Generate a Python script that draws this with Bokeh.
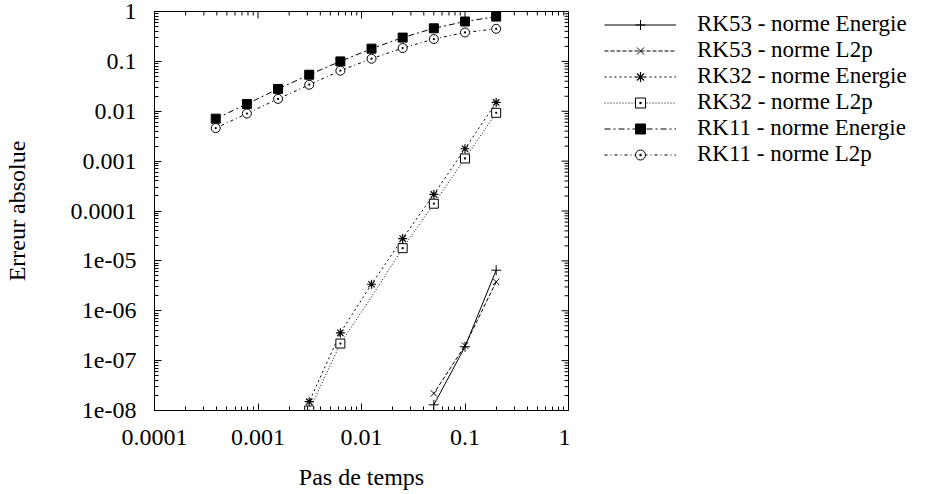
import math
from bokeh.plotting import figure
from bokeh.layouts import row
from bokeh.models import (Legend, LegendItem, FixedTicker, CustomJSTickFormatter, Range1d)
from bokeh.embed import file_html
from bokeh.resources import INLINE

# ---------------- data ----------------
DT = [0.2, 0.1, 0.05, 0.025, 0.0125, 0.00625, 0.003125, 0.0015625, 0.00078125, 0.000390625]

RK53_DT = [0.2, 0.1, 0.05]
RK53_ENERGIE = [6.5e-6, 1.9e-7, 1.3e-8]
RK53_L2P = [3.8e-6, 2.0e-7, 2.2e-8]

RK32_DT = [0.2, 0.1, 0.05, 0.025, 0.0125, 0.00625, 0.003125]
RK32_ENERGIE = [0.015, 0.00177, 2.15e-4, 2.8e-5, 3.4e-6, 3.6e-7, 1.5e-8]
RK32_L2P = [0.0093, 0.00113, 1.4e-4, 1.8e-5, 1.9e-6, 2.2e-7, 1.0e-8]
RK32_L2P_MARKED = [True, True, True, True, False, True, True]

RK11_ENERGIE = [0.79, 0.63, 0.46, 0.30, 0.18, 0.10, 0.054, 0.028, 0.014, 0.0071]
RK11_L2P = [0.45, 0.38, 0.28, 0.185, 0.113, 0.065, 0.034, 0.0177, 0.009, 0.0046]

X_TICKS = [1e-4, 1e-3, 1e-2, 1e-1, 1.0]
X_TICK_LABELS = ["0.0001", "0.001", "0.01", "0.1", "1"]
Y_TICKS = [1e-8, 1e-7, 1e-6, 1e-5, 1e-4, 1e-3, 1e-2, 1e-1, 1.0]
Y_TICK_LABELS = ["1e-08", "1e-07", "1e-06", "1e-05", "0.0001", "0.001", "0.01", "0.1", "1"]

SERIES_LABELS = ["RK53 - norme Energie", "RK53 - norme L2p",
                 "RK32 - norme Energie", "RK32 - norme L2p",
                 "RK11 - norme Energie", "RK11 - norme L2p"]

X_LABEL = "Pas de temps"
Y_LABEL = "Erreur absolue"

FONT = "Liberation Serif"
FS = "24px"

# series styles: (line_dash, marker, marker size, fill)
STYLES = [
    ("solid", "cross", 10, None),
    ("4 2", "x", 9, None),
    ("2 3", "asterisk", 9, None),
    ("1 2", "square_dot", 9, "white"),
    ("6 3 2 3", "square", 9, "black"),
    ("3 3 1 3", "circle_dot", 9, "white"),
]

# layout constants
FRAME_W, FRAME_H = 414, 400
MAJOR_LEN, MINOR_LEN = 7, 4


def minor_ticks(major):
    out = []
    for m in major[:-1]:
        for k in range(2, 10):
            out.append(m * k)
    return out


def fmt(ticks, labels):
    return CustomJSTickFormatter(args=dict(vals=ticks, labs=labels), code="""
        for (let i = 0; i < vals.length; i++) {
            if (Math.abs(Math.log10(vals[i]) - Math.log10(tick)) < 1e-6) return labs[i];
        }
        return "";
    """)


p = figure(width=154 + FRAME_W + 2, height=10 + FRAME_H + 84,
           x_axis_type="log", y_axis_type="log",
           x_range=Range1d(X_TICKS[0], X_TICKS[-1]), y_range=Range1d(Y_TICKS[0], Y_TICKS[-1]),
           output_backend="svg", toolbar_location=None,
           min_border_left=154, min_border_top=10, min_border_bottom=84,
           min_border_right=2, background_fill_color="white",
           border_fill_color="white", outline_line_color="black")
p.grid.visible = False


def style(ax, ticker):
    ax.ticker = ticker
    ax.axis_line_color = "black"
    ax.major_tick_line_color = "black"
    ax.minor_tick_line_color = "black"
    ax.major_tick_in = MAJOR_LEN
    ax.major_tick_out = 0
    ax.minor_tick_in = MINOR_LEN
    ax.minor_tick_out = 0
    ax.major_label_text_font = FONT
    ax.major_label_text_font_size = FS
    ax.major_label_text_color = "black"
    ax.axis_label_text_font = FONT
    ax.axis_label_text_font_style = "normal"
    ax.axis_label_text_font_size = FS
    ax.axis_label_text_color = "black"


xa = p.xaxis[0]
style(xa, FixedTicker(ticks=X_TICKS, minor_ticks=minor_ticks(X_TICKS)))
xa.formatter = fmt(X_TICKS, X_TICK_LABELS)
xa.axis_label = X_LABEL
xa.major_label_standoff = 19
xa.axis_label_standoff = 16

ya = p.yaxis[0]
style(ya, FixedTicker(ticks=Y_TICKS, minor_ticks=minor_ticks(Y_TICKS)))
ya.formatter = fmt(Y_TICKS, Y_TICK_LABELS)
ya.axis_label = Y_LABEL
ya.major_label_standoff = 18
ya.axis_label_standoff = 38
ya.major_label_orientation = "horizontal"

# mirrored tick marks on the top and right frame edges, drawn as short segments going inward
px_per_dec_x = FRAME_W / math.log10(X_TICKS[-1] / X_TICKS[0])
px_per_dec_y = FRAME_H / math.log10(Y_TICKS[-1] / Y_TICKS[0])


def inset_y(length):
    return Y_TICKS[-1] / 10 ** (length / px_per_dec_y)


def inset_x(length):
    return X_TICKS[-1] / 10 ** (length / px_per_dec_x)


for ticks, length in ((X_TICKS[1:-1], MAJOR_LEN), (minor_ticks(X_TICKS), MINOR_LEN)):
    n = len(ticks)
    p.segment(x0=ticks, y0=[Y_TICKS[-1]] * n, x1=ticks, y1=[inset_y(length)] * n,
              line_color="black", line_width=1)
for ticks, length in ((Y_TICKS[1:-1], MAJOR_LEN), (minor_ticks(Y_TICKS), MINOR_LEN)):
    n = len(ticks)
    p.segment(x0=[X_TICKS[-1]] * n, y0=ticks, x1=[inset_x(length)] * n, y1=ticks,
              line_color="black", line_width=1)

SERIES = [
    (RK53_DT, RK53_ENERGIE, None),
    (RK53_DT, RK53_L2P, None),
    (RK32_DT, RK32_ENERGIE, None),
    (RK32_DT, RK32_L2P, RK32_L2P_MARKED),
    (DT, RK11_ENERGIE, None),
    (DT, RK11_L2P, None),
]

# ---- legend figure (its ranges keep the series out of view; only the legend shows) ----
q = figure(width=949 - (154 + FRAME_W + 2), height=494, x_range=Range1d(10, 20), y_range=Range1d(10, 20),
           output_backend="svg", toolbar_location=None,
           x_axis_location=None, y_axis_location=None,
           min_border_left=34, min_border_top=11, min_border_right=0, min_border_bottom=0,
           outline_line_color=None,
           background_fill_color="white", border_fill_color="white")
q.grid.visible = False

items = []
for (xs, ys, marked), (dash, marker, size, fill), label in zip(SERIES, STYLES, SERIES_LABELS):
    if marked is None:
        mx, my = xs, ys
    else:
        mx = [x for x, m in zip(xs, marked) if m]
        my = [y for y, m in zip(ys, marked) if m]
    lw = 1.2 if marker == "asterisk" else 1
    fc = fill if fill else "black"
    p.line(xs, ys, line_color="black", line_width=1, line_dash=dash)
    p.scatter(mx, my, marker=marker, size=size, line_color="black", fill_color=fc, line_width=lw)
    ql = q.line(xs, ys, line_color="black", line_width=1, line_dash=dash)
    qs = q.scatter(mx, my, marker=marker, size=size, line_color="black", fill_color=fc, line_width=lw)
    items.append(LegendItem(label=label, renderers=[ql, qs]))

legend = Legend(items=items, location="top_left")
legend.label_text_font = FONT
legend.label_text_font_size = "23px"
legend.label_text_color = "black"
legend.glyph_width = 72
legend.glyph_height = 25
legend.label_height = 25
legend.label_standoff = 21
legend.spacing = 0
legend.padding = 0
legend.margin = 0
legend.border_line_color = None
legend.background_fill_alpha = 0
q.add_layout(legend, "center")

layout = row(p, q, spacing=0)
open("out.html", "w").write(file_html(layout, INLINE))
